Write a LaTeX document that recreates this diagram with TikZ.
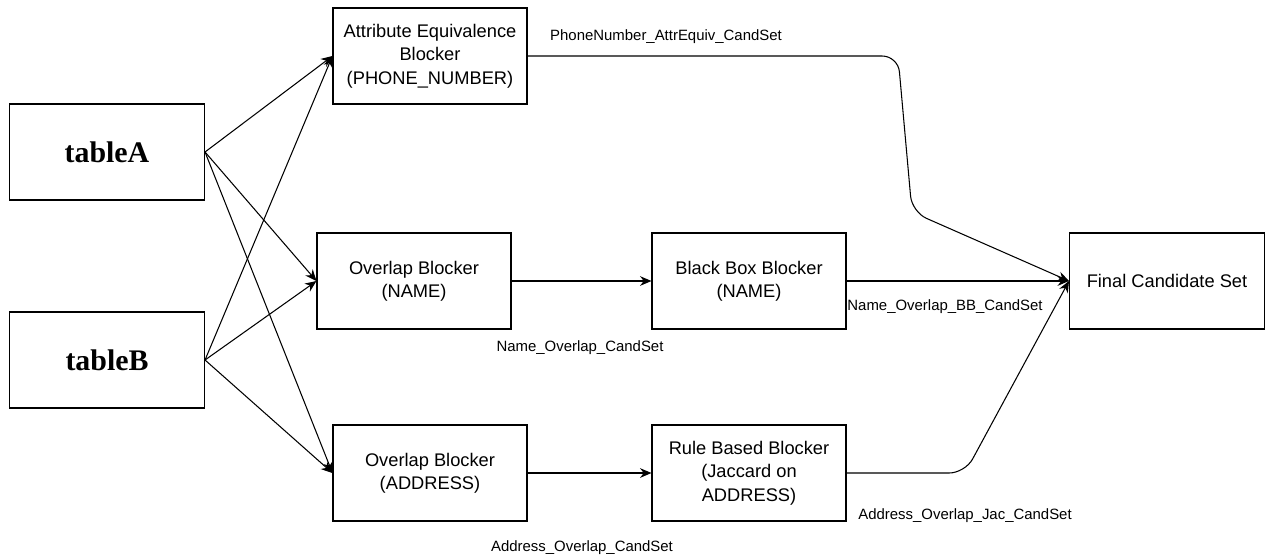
\documentclass[tikz,border=0pt]{standalone}
\usepackage{fontspec}
\setmainfont{Liberation Sans}
\newfontfamily\tablefont{Liberation Serif}
\usepackage{tikz}
\usetikzlibrary{arrows.meta,positioning,calc}

\begin{document}
\begin{tikzpicture}[
    >={Stealth[length=6.5pt,width=5.5pt]},
    table/.style = {rectangle, draw, line width=0.6pt, minimum width=3.9cm, minimum height=1.92cm, font=\tablefont\fontsize{17}{20}\selectfont\bfseries},
    blocker/.style = {rectangle, draw, line width=0.6pt, minimum width=3.88cm, minimum height=1.92cm, align=center, inner sep=1pt, font=\fontsize{10.4}{13.3}\selectfont},
    setname/.style = {font=\fontsize{8.5}{10}\selectfont, inner sep=0pt}
]
    \useasboundingbox (0,0) rectangle (25.38,-11.14);
    % Input tables
    \node[table] (tableA) at (2.14,-3.04) {tableA};
    \node[table] (tableB) at (2.14,-7.2) {tableB};
    % Blockers
    \node[blocker] (attrEquiv) at (8.6,-1.12) {Attribute Equivalence\\Blocker\\(PHONE\_NUMBER)};
    \node[blocker] (overlapName) at (8.28,-5.62) {Overlap Blocker\\(NAME)};
    \node[blocker] (blackBox) at (14.98,-5.62) {Black Box Blocker\\(NAME)};
    \node[blocker] (overlapAddr) at (8.6,-9.46) {Overlap Blocker\\(ADDRESS)};
    \node[blocker] (ruleBased) at (14.98,-9.46) {Rule Based Blocker\\(Jaccard on\\ADDRESS)};
    \node[blocker, minimum width=3.9cm] (final) at (23.34,-5.62) {Final Candidate Set};
    % Candidate set names
    \node[setname] (phoneSet) at (13.32,-0.74) {PhoneNumber\_AttrEquiv\_CandSet};
    \node[setname] (nameSet) at (11.6,-6.96) {Name\_Overlap\_CandSet};
    \node[setname] (nameBBSet) at (18.9,-6.14) {Name\_Overlap\_BB\_CandSet};
    \node[setname] (addrJacSet) at (19.3,-10.32) {Address\_Overlap\_Jac\_CandSet};
    \node[setname] (addrSet) at (11.64,-10.96) {Address\_Overlap\_CandSet};
    % Bend points
    \coordinate (phoneBend1) at (17.96,-1.12);
    \coordinate (phoneBend2) at (18.24,-4.24);
    \coordinate (jacBend) at (19.3,-9.46);
    % Arrows
    \draw[->, line width=0.6pt] (tableA.east) -- (attrEquiv.west);
    \draw[->, line width=0.6pt] (tableA.east) -- (overlapName.west);
    \draw[->, line width=0.6pt] (tableA.east) -- (overlapAddr.west);
    \draw[->, line width=0.6pt] (tableB.east) -- (attrEquiv.west);
    \draw[->, line width=0.6pt] (tableB.east) -- (overlapName.west);
    \draw[->, line width=0.6pt] (tableB.east) -- (overlapAddr.west);
    \draw[->, line width=0.6pt] (overlapName) -- (blackBox);
    \draw[->, line width=0.6pt] (overlapAddr) -- (ruleBased);
    \draw[->, line width=0.6pt] (blackBox) -- (final);
    \draw[->, line width=0.6pt, rounded corners=9pt] (attrEquiv.east) -- (phoneBend1) -- (phoneBend2) -- (final.west);
    \draw[->, line width=0.6pt, rounded corners=9pt] (ruleBased.east) -- (jacBend) -- (final.west);
\end{tikzpicture}
\end{document}
